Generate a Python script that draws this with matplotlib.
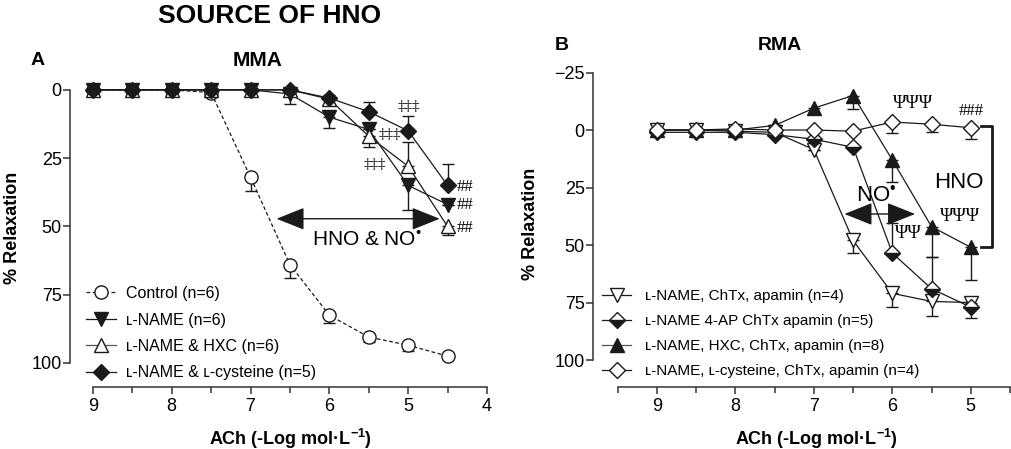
import numpy as np
import matplotlib
matplotlib.use("Agg")
import matplotlib.pyplot as plt
from matplotlib.lines import Line2D

plt.rcParams['font.family'] = ['Liberation Sans', 'DejaVu Sans']
plt.rcParams['mathtext.fontset'] = 'custom'
plt.rcParams['mathtext.rm'] = 'Liberation Sans'
plt.rcParams['mathtext.bf'] = 'Liberation Sans:bold'

# ---- panel A : MMA ----
xA = [9, 8.5, 8, 7.5, 7, 6.5, 6, 5.5, 5, 4.5]
control = [0, 0, 0, 1, 32, 64, 82.5, 90.5, 93.5, 97.5]
control_err = [0, 0, 0, 0, 5, 5, 3, 2, 2, 0]
lname = [0, 0, 0, 0, 0, 1.5, 10, 14.5, 35, 42]
lname_err = [0, 0, 0, 0, 0, 3.5, 4, 0, 9, 0]
hxc = [0, 0, 0, 0, 0, 0, 3.4, 17, 28, 50]
hxc_err = [0, 0, 0, 0, 0, 0, -1.5, 4, -9, 3]
cys = [0, 0, 0, 0, 0, 0, 3, 8, 15, 35]
cys_err = [0, 0, 0, 0, 0, 0, 0, -3.5, -5.5, -8]

# ---- panel B : RMA ----
xB = [9, 8.5, 8, 7.5, 7, 6.5, 6, 5.5, 5]
chtx = [0, 0, 0.5, 1, 8.5, 48, 71, 74.5, 75]
chtx_err = [0, 0, 0, 0, 0, 5.5, 6, 6.5, -2]
ap4 = [1, 1, 1, 2, 4, 7.5, 53.5, 69, 77]
ap4_err = [0, 0, 0, 0, 0, 0, -13, -14, 4.5]
hxcB = [0, 0, 0, -2, -9.5, -15, 13, 42, 51]
hxcB_err = [0, 0, 0, 0, 2.5, 6, 9.5, 13, 14]
cysB = [0, 0, -0.5, 0, 0, 0.5, -3.5, -2.5, -1]
cysB_err = [0, 0, 0, 0, 0, 0, 5, 3.5, 5]

labelsA = ['Control (n=6)', 'ʟ-NAME (n=6)', 'ʟ-NAME & HXC (n=6)', 'ʟ-NAME & ʟ-cysteine (n=5)']
labelsB = ['ʟ-NAME, ChTx, apamin (n=4)', 'ʟ-NAME 4-AP ChTx apamin (n=5)',
           'ʟ-NAME, HXC, ChTx, apamin (n=8)', 'ʟ-NAME, ʟ-cysteine, ChTx, apamin (n=4)']

K = '#1a1a1a'
XLAB = r'ACh (-Log mol·L$^{\mathbf{-1}}$)'
DOT = r'$^{\mathrm{•}}$'


def yerr(e):
    e = np.array(e, dtype=float)
    return [np.where(e < 0, -e, 0), np.where(e > 0, e, 0)]


def series(ax, x, y, e, marker, fc, ls='-', ms=9.5, **kw):
    ax.errorbar(x, y, yerr=yerr(e), fmt='none', ecolor=K, elinewidth=1, capsize=4.5, capthick=1,
                zorder=2, clip_on=False)
    ax.plot(x, y, color=K, ls=ls, lw=0.9, marker=marker, ms=ms, mfc=fc, mec=K, mew=1,
            zorder=3, clip_on=False, **kw)


def style(ax, xlo, xhi, ylo, yhi, yticks):
    for s in ['top', 'right']:
        ax.spines[s].set_visible(False)
    for s in ['left', 'bottom']:
        ax.spines[s].set_linewidth(1.1)
        ax.spines[s].set_color('#333333')
    ax.spines['bottom'].set_bounds(xlo, xhi)
    ax.spines['left'].set_bounds(ylo, yhi)
    ax.set_yticks(yticks)
    ax.set_yticklabels([str(t).replace('-', '\u2212') for t in yticks])
    ax.set_xticks(np.arange(np.ceil(xlo), np.floor(xhi) + 1, 1))
    ax.set_xticks(np.arange(xlo, xhi + 0.01, 0.5), minor=True)
    ax.tick_params(which='both', direction='out', color='#333333', width=1.1, labelsize=13)
    ax.tick_params(axis='y', length=5, pad=1)
    ax.tick_params(axis='x', which='major', length=5, pad=3)
    ax.tick_params(axis='x', which='minor', length=4)


def arrow(ax, x0, x1, y):
    ax.annotate('', xy=(x1, y), xytext=(x0, y),
                arrowprops=dict(arrowstyle='<|-|>,head_length=0.8,head_width=0.32', color=K,
                                lw=1, shrinkA=0, shrinkB=0, mutation_scale=22))


fig = plt.figure(figsize=(10.11, 4.49), dpi=100)

# ---------------- panel A ----------------
axA = fig.add_axes([70 / 1011, 1 - 387 / 449, 417 / 1011, 319 / 449])
axA.set_xlim(9.29, 4)
axA.set_ylim(108.8, -8)
series(axA, xA, control, control_err, 'o', 'white', ls=(0, (3, 2)))
series(axA, xA, lname, lname_err, 'v', K)
series(axA, xA, hxc, hxc_err, '^', 'white')
series(axA, xA, cys, cys_err, 'D', K, ms=8.5)
style(axA, 4, 9, 0, 100, [0, 25, 50, 75, 100])
axA.set_ylabel('% Relaxation', fontsize=13, fontweight='bold')
axA.yaxis.set_label_coords(-0.118, 0.5)
axA.set_xlabel(XLAB, fontsize=13, fontweight='bold')
axA.xaxis.set_label_coords(0.528, -0.124)

arrow(axA, 6.67, 4.60, 47.2)
axA.text(5.52, 55, 'HNO & NO' + DOT, fontsize=15, ha='center', va='center')
for (tx, ty) in [(4.99, 6.2), (5.23, 16.5), (5.42, 27.5)]:
    axA.text(tx, ty, '‡‡‡', family='DejaVu Serif', fontsize=11, ha='center', va='center',
             color='#333333')
for ty in [35.5, 42, 50.5]:
    axA.text(4.38, ty, '##', family='Liberation Serif', fontsize=12, ha='left', va='center')

hA = [Line2D([], [], color=K, ls=(0, (3, 2)), lw=0.9, marker='o', ms=9.5, mfc='white', mec=K),
      Line2D([], [], color=K, lw=0.9, marker='v', ms=9.5, mfc=K, mec=K),
      Line2D([], [], color='#555555', lw=0.9, marker='^', ms=9.5, mfc='white', mec=K),
      Line2D([], [], color=K, lw=0.9, marker='D', ms=8.5, mfc=K, mec=K)]
axA.legend(hA, labelsA, loc='upper left', bbox_to_anchor=(86 / 1011, 1 - 286 / 449),
           bbox_transform=fig.transFigure, frameon=False, fontsize=11.5, borderpad=0,
           borderaxespad=0, handlelength=1.85, handletextpad=0.65, labelspacing=0.72)

# ---------------- panel B ----------------
axB = fig.add_axes([593 / 1011, 1 - 387 / 449, 417 / 1011, 326 / 449])
axB.set_xlim(9.815, 4.5)
axB.set_ylim(111.7, -30)
series(axB, xB, chtx, chtx_err, 'v', 'white')
series(axB, xB, ap4, ap4_err, 'D', K, ms=8.5, fillstyle='bottom', markerfacecoloralt='white')
series(axB, xB, hxcB, hxcB_err, '^', K)
series(axB, xB, cysB, cysB_err, 'D', 'white', ms=8.5)
style(axB, 4.5, 9.5, -25, 100, [-25, 0, 25, 50, 75, 100])
axB.set_ylabel('% Relaxation', fontsize=13, fontweight='bold')
axB.yaxis.set_label_coords(-0.13, 0.5)
axB.set_xlabel(XLAB, fontsize=13, fontweight='bold')
axB.xaxis.set_label_coords(0.537, -0.121)

arrow(axB, 6.61, 5.71, 36.5)
axB.text(6.21, 29, 'NO' + DOT, fontsize=16, ha='center', va='center')
axB.text(5.15, 23, 'HNO', fontsize=16, ha='center', va='center')
bx = [4.87, 4.73, 4.73, 4.87]
by = [-1.7, -1.7, 50.9, 50.9]
axB.plot(bx, by, color=K, lw=2, clip_on=False)
axB.text(5.74, -11.7, 'ΨΨΨ', family='Liberation Serif', fontsize=13, ha='center', va='center')
axB.text(4.99, -8.3, '###', family='Liberation Serif', fontsize=12, ha='center', va='center')
axB.text(5.14, 37.8, 'ΨΨΨ', family='Liberation Serif', fontsize=13, ha='center', va='center')
axB.text(5.80, 44.8, 'ΨΨ', family='Liberation Serif', fontsize=13, ha='center', va='center')

hB = [Line2D([], [], color=K, lw=0.9, marker='v', ms=9.5, mfc='white', mec=K),
      Line2D([], [], color=K, lw=0.9, marker='D', ms=8.5, mfc=K, mec=K, fillstyle='bottom',
             markerfacecoloralt='white'),
      Line2D([], [], color='#555555', lw=0.9, marker='^', ms=9.5, mfc=K, mec=K),
      Line2D([], [], color=K, lw=0.9, marker='D', ms=8.5, mfc='white', mec=K)]
axB.legend(hB, labelsB, loc='upper left', bbox_to_anchor=(602 / 1011, 1 - 289 / 449),
           bbox_transform=fig.transFigure, frameon=False, fontsize=11, borderpad=0,
           borderaxespad=0, handlelength=1.9, handletextpad=0.9, labelspacing=0.72)

# ---------------- titles ----------------
fig.text(270 / 1011, 1 - 16 / 449, 'SOURCE OF HNO', fontsize=19, fontweight='bold',
         ha='center', va='center')
fig.text(38 / 1011, 1 - 60 / 449, 'A', fontsize=14, fontweight='bold', ha='center', va='center')
fig.text(258 / 1011, 1 - 60 / 449, 'MMA', fontsize=15, fontweight='bold', ha='center', va='center')
fig.text(562 / 1011, 1 - 45 / 449, 'B', fontsize=14, fontweight='bold', ha='center', va='center')
fig.text(780 / 1011, 1 - 45 / 449, 'RMA', fontsize=14, fontweight='bold', ha='center', va='center')

fig.savefig('out.png', dpi=100)
